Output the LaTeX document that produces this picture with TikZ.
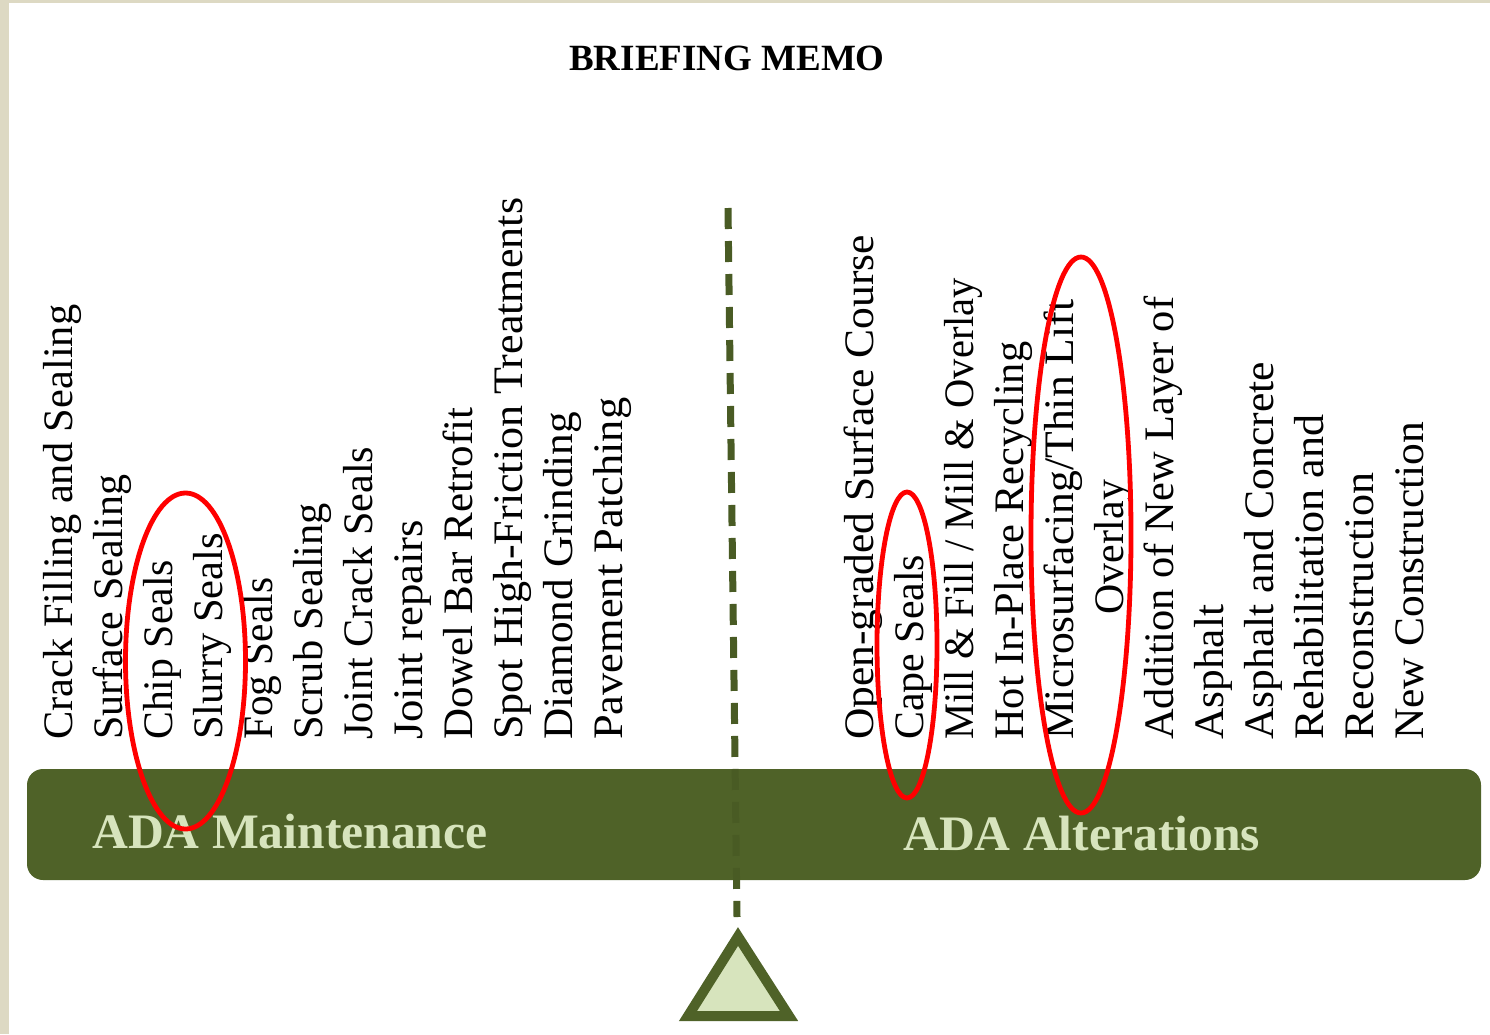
\documentclass[tikz,border=0pt]{standalone}
\usepackage{graphicx}
\usepackage{fontspec}
\setmainfont{Liberation Serif}
\definecolor{olive}{HTML}{4F6228}
\definecolor{olivedash}{HTML}{495B24}
\definecolor{palegreen}{HTML}{D7E4BD}
\definecolor{beige}{HTML}{DDD9C3}
\definecolor{ringred}{HTML}{FF0000}
\newcommand\fitw[2]{\resizebox{#1pt}{\height}{#2}}
\tikzset{
  item/.style={rotate=90, anchor=base west, inner sep=0pt, text=black,
    font=\fontsize{42}{50}\selectfont},
  barlabel/.style={anchor=base west, inner sep=0pt, text=palegreen,
    font=\fontsize{49.6}{56}\selectfont\bfseries},
  ring/.style={draw=ringred, line width=4.8pt},
  dashline/.style={draw=olivedash, line width=7pt, dash pattern=on 21pt off 12pt},
}
\begin{document}
\begin{tikzpicture}[x=1pt,y=-1pt]
\useasboundingbox (0,0) rectangle (1490,1034);
\fill[beige] (0,0) rectangle (1490,1034);
\fill[white] (9,3) rectangle (1490,1034);

% title
\node[anchor=base, inner sep=0pt, font=\fontsize{37}{44}\selectfont\bfseries] (title) at (727,70) {BRIEFING MEMO};

% left items
\node[item] (m1) at (72,740) {\fitw{435}{Crack Filling and Sealing}};
\node[item] (m2) at (122,740) {\fitw{265}{Surface Sealing}};
\node[item] (m3) at (172,740) {\fitw{180}{Chip Seals}};
\node[item] (m4) at (222,740) {\fitw{207}{Slurry Seals}};
\node[item] (m5) at (272,740) {\fitw{162}{Fog Seals}};
\node[item] (m6) at (322,740) {\fitw{237}{Scrub Sealing}};
\node[item] (m7) at (372,740) {\fitw{293}{Joint Crack Seals}};
\node[item] (m8) at (422,740) {\fitw{220}{Joint repairs}};
\node[item] (m9) at (472,740) {\fitw{332}{Dowel Bar Retrofit}};
\node[item] (m10) at (522,740) {\fitw{542}{Spot High-Friction Treatments}};
\node[item] (m11) at (572,740) {\fitw{328}{Diamond Grinding}};
\node[item] (m12) at (622,740) {\fitw{342}{Pavement Patching}};

% right items
\node[item] (a1) at (873,740) {\fitw{505}{Open-graded Surface Course}};
\node[item] (a2) at (923,740) {\fitw{185}{Cape Seals}};
\node[item] (a3) at (973,740) {\fitw{462}{Mill \& Fill / Mill \& Overlay}};
\node[item] (a4) at (1023,740) {\fitw{398}{Hot In-Place Recycling}};
\node[item] (a5) at (1073,740) {\fitw{440}{Microsurfacing/Thin Lift}};
\node[item] (a5b) at (1123,615) {\fitw{135}{Overlay}};
\node[item] (a6) at (1173,740) {\fitw{443}{Addition of New Layer of}};
\node[item] (a7) at (1223,740) {\fitw{135}{Asphalt}};
\node[item] (a8) at (1273,740) {\fitw{378}{Asphalt and Concrete}};
\node[item] (a9) at (1323,740) {\fitw{325}{Rehabilitation and}};
\node[item] (a10) at (1373,740) {\fitw{267}{Reconstruction}};
\node[item] (a11) at (1423,740) {\fitw{318}{New Construction}};

% beam
\fill[olive, rounded corners=16pt] (27,769) rectangle (1481,880);
\node[barlabel] (maint) at (92,848) {ADA Maintenance};
\node[barlabel] (alter) at (903,850) {ADA Alterations};

% fulcrum
\coordinate (dtop) at (728,208);
\coordinate (dbot) at (737,917);
\draw[dashline] (dtop) -- (dbot);
\draw[draw=olive, fill=palegreen, line width=10pt, miter limit=10]
  (738,936.5) -- (789,1016) -- (688,1016) -- cycle;

% red rings
\draw[ring] (185.5,661) ellipse [x radius=60, y radius=168];
\draw[ring] (907,645) ellipse [x radius=30, y radius=153];
\draw[ring] (1081,535) ellipse [x radius=50, y radius=278];
\end{tikzpicture}
\end{document}
